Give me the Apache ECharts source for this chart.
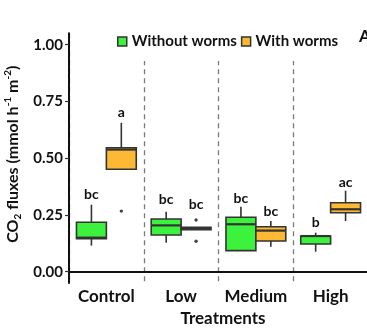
<!DOCTYPE html>
<html>
<head>
<meta charset="utf-8">
<script src="https://cdn.jsdelivr.net/npm/echarts@6/dist/echarts.min.js"></script>
<style>html,body{margin:0;padding:0;background:#fff}#c{width:367px;height:330px}</style>
</head>
<body>
<div id="c"></div>
<script>
// ---- data ----
const categories = ['Control', 'Low', 'Medium', 'High'];
const yTicks = [0, 0.25, 0.5, 0.75, 1.0];

// Without worms: box statistics per treatment
const woMin    = [0.115, 0.128, 0.093, 0.088];
const woQ1     = [0.145, 0.162, 0.093, 0.122];
const woMedian = [0.150, 0.204, 0.209, 0.157];
const woQ3     = [0.218, 0.232, 0.240, 0.157];
const woMax    = [0.295, 0.264, 0.286, 0.172];
const woOutliers = [];               // [categoryIndex, value]
const woLetters  = ['bc', 'bc', 'bc', 'b'];
const woLetterY  = [0.338, 0.316, 0.323, 0.219];

// With worms: box statistics per treatment
const wMin    = [0.451, 0.185, 0.110, 0.223];
const wQ1     = [0.451, 0.185, 0.135, 0.260];
const wMedian = [0.538, 0.190, 0.181, 0.275];
const wQ3     = [0.546, 0.196, 0.198, 0.304];
const wMax    = [0.656, 0.196, 0.223, 0.357];
const wOutliers = [[0, 0.267], [1, 0.228], [1, 0.134]];
const wLetters  = ['a', 'bc', 'bc', 'ac'];
const wLetterY  = [0.700, 0.294, 0.264, 0.395];

// ---- styling ----
const GREEN = '#3df23d', ORANGE = '#fdb933', EDGE = '#333333';
const FONT = 'Lato';
const DODGE = 0.2, BOXW = 0.4;

function boxData(mn, q1, md, q3, mx) {
  return categories.map((c, i) => [i, mn[i], q1[i], md[i], q3[i], mx[i]]);
}
function boxRender(offset, fill) {
  return function (params, api) {
    const ci = api.value(0);
    const band = api.size([1, 0])[0];
    const cx = api.coord([ci, 0])[0] + offset * band;
    const w = BOXW * band;
    const y = k => api.coord([ci, api.value(k)])[1];
    const yMin = y(1), yQ1 = y(2), yMed = y(3), yQ3 = y(4), yMax = y(5);
    const ls = { stroke: EDGE, lineWidth: 1.6 };
    return {
      type: 'group',
      children: [
        { type: 'line', shape: { x1: cx, y1: yQ3, x2: cx, y2: yMax }, style: ls },
        { type: 'line', shape: { x1: cx, y1: yQ1, x2: cx, y2: yMin }, style: ls },
        { type: 'rect', shape: { x: cx - w / 2, y: yQ3, width: w, height: Math.max(yQ1 - yQ3, 0.5) },
          style: { fill: fill, stroke: EDGE, lineWidth: 1.6 } },
        { type: 'line', shape: { x1: cx - w / 2, y1: yMed, x2: cx + w / 2, y2: yMed },
          style: { stroke: EDGE, lineWidth: 2.2 } }
      ]
    };
  };
}
function pointRender(offset) {
  return function (params, api) {
    const ci = api.value(0);
    const band = api.size([1, 0])[0];
    const p = api.coord([ci, api.value(1)]);
    return { type: 'circle', shape: { cx: p[0] + offset * band, cy: p[1], r: 1.7 }, style: { fill: '#444' } };
  };
}
function labelRender(offset, letters) {
  return function (params, api) {
    const ci = api.value(0);
    const band = api.size([1, 0])[0];
    const p = api.coord([ci, api.value(1)]);
    return { type: 'text', style: { x: p[0] + offset * band, y: p[1], text: letters[params.dataIndex],
      align: 'center', verticalAlign: 'middle', fill: '#111', fontFamily: FONT, fontWeight: 'bold', fontSize: 14 } };
  };
}

const chart = echarts.init(document.getElementById('c'), null, { renderer: 'canvas' });
chart.setOption({
  animation: false,
  backgroundColor: '#fff',
  grid: { left: 69, right: -1, top: 33.35, bottom: 46.95, containLabel: false, outerBoundsMode: 'none' },
  legend: {
    left: 112, top: 28, padding: [6, 5, 12, 5], backgroundColor: '#fff',
    itemWidth: 9, itemHeight: 9, itemGap: 4,
    textStyle: { fontFamily: FONT, fontWeight: 'bold', fontSize: 15, color: '#111' },
    data: [
      { name: 'Without worms', icon: 'rect', itemStyle: { color: GREEN, borderColor: EDGE, borderWidth: 1.5 } },
      { name: 'With worms', icon: 'rect', itemStyle: { color: ORANGE, borderColor: EDGE, borderWidth: 1.5 } }
    ]
  },
  xAxis: {
    type: 'category', data: categories, boundaryGap: true,
    axisLine: { lineStyle: { color: '#111', width: 2 } },
    axisTick: { show: false },
    axisLabel: { interval: 0, fontFamily: FONT, fontWeight: 'bold', fontSize: 17, color: '#111', margin: 5 },
    splitLine: { show: true, interval: 0, lineStyle: { type: [5, 4], color: '#7a7a7a', width: 1.3 } },
    name: 'Treatments', nameLocation: 'middle', nameGap: 27,
    nameTextStyle: { fontFamily: FONT, fontWeight: 'bold', fontSize: 17, color: '#111', padding: [0, 0, 0, 9] }
  },
  yAxis: {
    type: 'value', min: -0.05, max: 1.05,
    axisLine: { show: true, lineStyle: { color: '#111', width: 2 } },
    axisTick: { show: true, length: 4, customValues: yTicks, lineStyle: { color: '#333', width: 1.2 } },
    axisLabel: { customValues: yTicks, formatter: v => Number(v).toFixed(2),
      fontFamily: FONT, fontWeight: 'bold', fontSize: 15, color: '#111', margin: 6 },
    splitLine: { show: false },
    name: '{a|CO}{sub|2}{a| fluxes (mmol h}{sup|-1}{a| m}{sup|-2}{a|)}',
    nameLocation: 'middle', nameGap: 43,
    nameTextStyle: {
      fontFamily: FONT, fontWeight: 'bold', fontSize: 16, color: '#111', padding: [0, 0, 0, 8],
      rich: {
        a: { fontFamily: FONT, fontWeight: 'bold', fontSize: 16, color: '#111', lineHeight: 20 },
        sub: { fontFamily: FONT, fontWeight: 'bold', fontSize: 10, color: '#111', verticalAlign: 'bottom' },
        sup: { fontFamily: FONT, fontWeight: 'bold', fontSize: 10, color: '#111', verticalAlign: 'top' }
      }
    }
  },
  graphic: [
    { type: 'text', left: 359, top: 28, style: { text: 'A', fontFamily: FONT, fontWeight: 'bold', fontSize: 17, fill: '#111' } }
  ],
  series: [
    { name: 'Without worms', type: 'custom', renderItem: boxRender(-DODGE, GREEN),
      itemStyle: { color: GREEN }, encode: { x: 0, y: [1, 2, 3, 4, 5] },
      data: boxData(woMin, woQ1, woMedian, woQ3, woMax) },
    { name: 'With worms', type: 'custom', renderItem: boxRender(DODGE, ORANGE),
      itemStyle: { color: ORANGE }, encode: { x: 0, y: [1, 2, 3, 4, 5] },
      data: boxData(wMin, wQ1, wMedian, wQ3, wMax) },
    { type: 'custom', renderItem: pointRender(-DODGE), encode: { x: 0, y: 1 }, data: woOutliers },
    { type: 'custom', renderItem: pointRender(DODGE), encode: { x: 0, y: 1 }, data: wOutliers },
    { type: 'custom', renderItem: labelRender(-DODGE, woLetters), encode: { x: 0, y: 1 },
      data: categories.map((c, i) => [i, woLetterY[i]]) },
    { type: 'custom', renderItem: labelRender(DODGE, wLetters), encode: { x: 0, y: 1 },
      data: categories.map((c, i) => [i, wLetterY[i]]) }
  ]
});
</script>
</body>
</html>
